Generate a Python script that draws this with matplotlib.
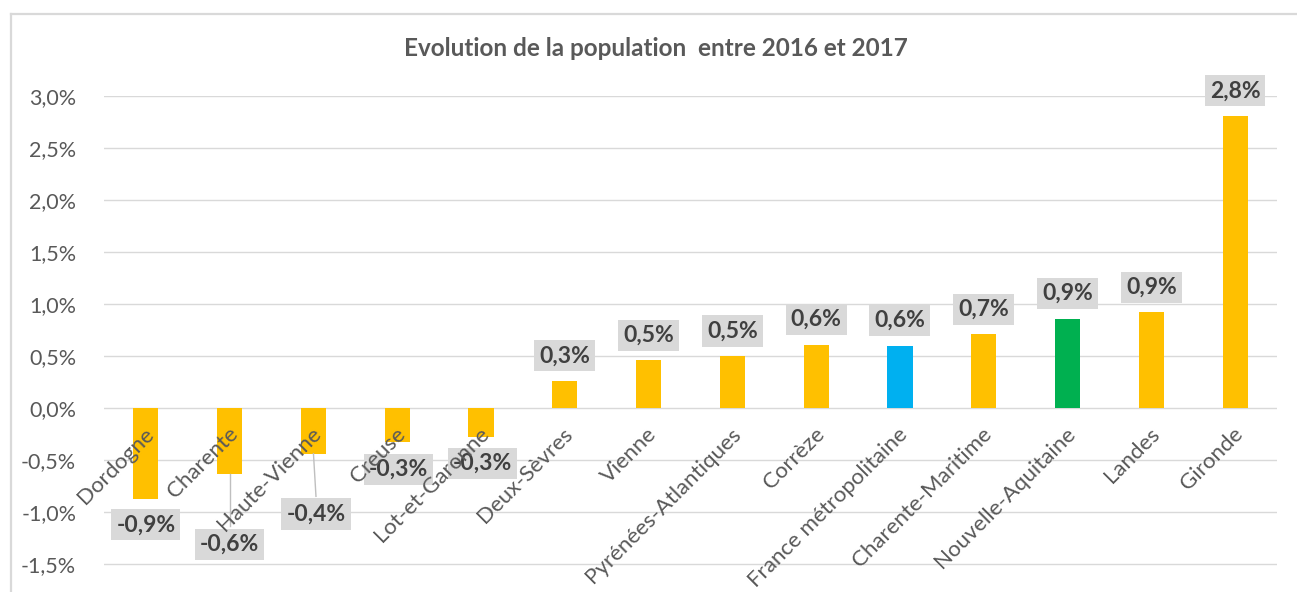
import matplotlib
matplotlib.use("Agg")
import matplotlib.pyplot as plt
from matplotlib.lines import Line2D
from matplotlib.transforms import ScaledTranslation
import numpy as np

# ---- data ----
categories = ["Dordogne", "Charente", "Haute-Vienne", "Creuse", "Lot-et-Garonne",
              "Deux-Sèvres", "Vienne", "Pyrénées-Atlantiques", "Corrèze",
              "France métropolitaine", "Charente-Maritime", "Nouvelle-Aquitaine",
              "Landes", "Gironde"]
values = [-0.88, -0.64, -0.44, -0.33, -0.28, 0.26, 0.46, 0.50, 0.61, 0.60,
          0.71, 0.86, 0.92, 2.81]
bar_colors = ["#FFC000"] * 9 + ["#00B0F0", "#FFC000", "#00B050", "#FFC000", "#FFC000"]
title = "Evolution de la population  entre 2016 et 2017"
yticks = [-1.5, -1.0, -0.5, 0.0, 0.5, 1.0, 1.5, 2.0, 2.5, 3.0]

# ---- layout (label placement for negative values, Excel-like) ----
neg_label_pos = {0: (0.0, -1.125), 1: (0.0, -1.31), 2: (0.03, -1.02),
                 3: (0.015, -0.59), 4: (0.02, -0.535)}
leaders = {1, 2}

W, H, DPI = 1297, 592, 100
fig = plt.figure(figsize=(W / DPI, H / DPI), dpi=DPI)
fig.patch.set_facecolor("white")
plt.rcParams["font.family"] = ["Lato", "DejaVu Sans"]

# chart-area border
fig.add_artist(Line2D([11 / W, 1.0], [1 - 14 / H, 1 - 14 / H], color="#D9D9D9", lw=1.6,
                      transform=fig.transFigure))
fig.add_artist(Line2D([11 / W, 11 / W], [0, 1 - 14 / H], color="#D9D9D9", lw=1.6,
                      transform=fig.transFigure))

ylo, yhi = -1.77, 3.0
top_px, bot_px = 96, 592
ax = fig.add_axes([104 / W, 1 - bot_px / H, 1173 / W, (bot_px - top_px) / H])
ax.set_xlim(-0.5, len(categories) - 0.5)
ax.set_ylim(ylo, yhi)
for s in ax.spines.values():
    s.set_visible(False)
ax.set_yticks(yticks)
ax.set_yticklabels([("%.1f%%" % t).replace(".", ",") for t in yticks])
ax.tick_params(axis="y", length=0, pad=20, labelsize=15.5, labelcolor="#595959")
ax.set_xticks([])
ax.grid(axis="y", color="#D9D9D9", lw=1.0)
ax.set_axisbelow(True)

x = np.arange(len(categories))
ax.bar(x, values, width=0.30, color=bar_colors, zorder=3)

box = dict(boxstyle="square,pad=0.22", fc="#D9D9D9", ec="none")
for i, v in enumerate(values):
    txt = ("%.1f%%" % v).replace(".", ",")
    if v >= 0:
        lx, ly = i, v + 0.24
    else:
        dx, ly = neg_label_pos[i]
        lx = i + dx
    ax.text(lx, ly, txt, ha="center", va="center", fontsize=16.5, fontweight="bold",
            color="#404040", bbox=box, zorder=5)
    if i in leaders:
        ax.plot([i, lx], [v, ly + 0.17], color="#BFBFBF", lw=1.0, zorder=4)

# category labels at the zero line, rotated 45°
off = ScaledTranslation(5 / DPI, -23 / DPI, fig.dpi_scale_trans)
for i, c in enumerate(categories):
    ax.text(i, 0, c, rotation=45, rotation_mode="anchor", ha="right", va="center",
            fontsize=16, color="#595959", transform=ax.transData + off, zorder=6)

fig.text(656 / W, 1 - 48 / H, title, ha="center", va="center", fontsize=17.5,
         fontweight="bold", color="#595959")

fig.savefig("out.png", dpi=DPI, facecolor="white")
